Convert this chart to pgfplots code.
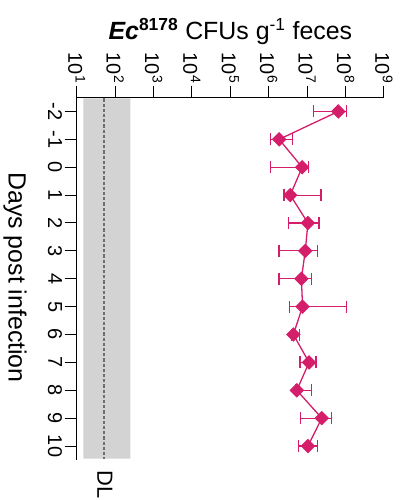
\documentclass[border=0pt]{standalone}
\usepackage{pgfplots}
\pgfplotsset{compat=1.18}
\usepackage{pgfplotstable}
\usepackage{fontspec}
\setmainfont{Liberation Sans}

\definecolor{ecpink}{RGB}{213,30,106}
\definecolor{dlband}{RGB}{211,211,211}
\definecolor{dlline}{RGB}{110,110,110}

% log10 CFU per g feces: mean, lower and upper error
\pgfplotstableread{
day mean em   ep
-2  7.81 0.65 0.21
-1  6.27 0.22 0.35
0   6.87 0.82 0.16
1   6.56 0.16 0.80
2   7.02 0.51 0.29
3   6.95 0.68 0.32
4   6.85 0.58 0.27
5   6.88 0.34 1.15
6   6.64 0.05 0.16
7   7.05 0.24 0.18
8   6.73 0.03 0.39
9   7.38 0.55 0.26
10  7.02 0.25 0.25
}\cfu

\newcommand{\ticksize}{\fontsize{20}{24}\selectfont}

\begin{document}
\begin{tikzpicture}
\useasboundingbox (0,0) rectangle (414bp,-500bp);
\begin{axis}[
  at={(76.7bp,-97.5bp)}, anchor=north west,
  scale only axis,
  width=307.3bp, height=362.5bp,
  xmin=1, xmax=9,
  ymin=-2.5, ymax=10.5,
  y dir=reverse,
  axis x line*=top,
  axis y line*=left,
  axis line style={line width=1bp, black},
  clip=false,
  tick align=outside,
  major tick length=12bp,
  every tick/.style={black, line width=1bp},
  xtick={1,...,9},
  xticklabels={10\textsuperscript{1},10\textsuperscript{2},10\textsuperscript{3},10\textsuperscript{4},10\textsuperscript{5},10\textsuperscript{6},10\textsuperscript{7},10\textsuperscript{8},10\textsuperscript{9}},
  xticklabel style={rotate=-90, anchor=east, font=\ticksize, inner sep=2bp},
  ytick={-2,...,10},
  yticklabels={-2,-1,0,1,2,3,4,5,6,7,8,9,10},
  yticklabel style={rotate=-90, anchor=north, font=\ticksize, inner sep=2.5bp},
]
% detection-limit band and line
\addplot[draw=none, fill=dlband] coordinates {(1.175,-2.47) (2.40,-2.47) (2.40,10.45) (1.175,10.45)} \closedcycle;
\addplot[dlline, line width=2bp, dash pattern=on 3.2bp off 2bp] coordinates {(1.70,-2.47) (1.70,10.45)};
% colonisation time course
\addplot[ecpink, line width=1.3bp,
  mark=square*, mark size=4.5bp, mark options={rotate=45, solid},
  error bars/.cd, x dir=both, x explicit,
  error bar style={line width=1.2bp, ecpink},
  error mark=|,
  error mark options={ecpink, mark size=6bp, line width=1.3bp}]
  table[x=mean, y=day, x error plus=ep, x error minus=em] {\cfu};
\end{axis}
\node[anchor=base, font=\fontsize{25}{30}\selectfont] at (230.35bp,-39bp)
  {{\bfseries\itshape Ec}\textsuperscript{\bfseries 8178} CFUs g\textsuperscript{-1} feces};
\node[rotate=-90, font=\fontsize{25}{30}\selectfont] at (15bp,-277.5bp) {Days post infection};
\node[rotate=-90, font=\fontsize{22}{26}\selectfont] at (105bp,-485bp) {DL};
\end{tikzpicture}
\end{document}
